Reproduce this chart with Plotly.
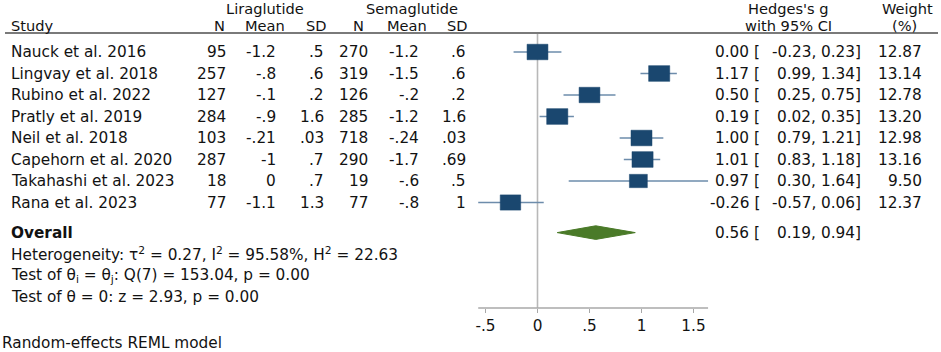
import plotly.graph_objects as go

# ---------------- data ----------------
studies = ["Nauck et al. 2016", "Lingvay et al. 2018", "Rubino et al. 2022", "Pratly et al. 2019",
           "Neil et al. 2018", "Capehorn et al. 2020", "Takahashi et al. 2023", "Rana et al. 2023"]
lira_n = [95, 257, 127, 284, 103, 287, 18, 77]
lira_mean = [-1.2, -0.8, -0.1, -0.9, -0.21, -1, 0, -1.1]
lira_sd = [0.5, 0.6, 0.2, 1.6, 0.03, 0.7, 0.7, 1.3]
sema_n = [270, 319, 126, 285, 718, 290, 19, 77]
sema_mean = [-1.2, -1.5, -0.2, -1.2, -0.24, -1.7, -0.6, -0.8]
sema_sd = [0.6, 0.6, 0.2, 1.6, 0.03, 0.69, 0.5, 1]
hedges_g = [0.00, 1.17, 0.50, 0.19, 1.00, 1.01, 0.97, -0.26]
ci_low = [-0.23, 0.99, 0.25, 0.02, 0.79, 0.83, 0.30, -0.57]
ci_high = [0.23, 1.34, 0.75, 0.35, 1.21, 1.18, 1.64, 0.06]
weights = [12.87, 13.14, 12.78, 13.20, 12.98, 13.16, 9.50, 12.37]
overall_g, overall_low, overall_high = 0.56, 0.19, 0.94
tick_vals = [-0.5, 0, 0.5, 1, 1.5]
tick_text = ["-.5", "0", ".5", "1", "1.5"]

# ---------------- layout helpers ----------------
W, H = 941, 352
AX_Y = 308            # pixel row of the x axis
ROW0, ROWH = 52, 21.5
ZERO_PX, PX_PER_UNIT = 537.5, 104.0
FONT = "DejaVu Sans"
FS = 15.3
HFS = 14.6
TXT = "#121212"
NAVY = "#1a476f"
CI_COL = "#6d8cab"
GREEN = "#4a7a28"


def px_x(p):
    return p / W


def px_y(p):
    return 1 - p / H


def stata(v):
    s = f"{v:g}"
    if s.startswith("0."):
        s = s[1:]
    elif s.startswith("-0."):
        s = "-" + s[2:]
    return s


rows = list(range(len(studies)))
overall_row = 8.4
y_top = -ROW0 / ROWH
y_bot = y_top + AX_Y / ROWH

fig = go.Figure()

# CI whiskers
fig.add_trace(go.Scatter(
    x=hedges_g, y=rows, mode="markers",
    marker=dict(size=1, color="rgba(0,0,0,0)"),
    error_x=dict(type="data", symmetric=False,
                 array=[h - gg for h, gg in zip(ci_high, hedges_g)],
                 arrayminus=[gg - l for gg, l in zip(hedges_g, ci_low)],
                 color=CI_COL, thickness=1.6, width=0),
    hoverinfo="skip", showlegend=False))

# overall diamond
dh = 6.8 / ROWH
fig.add_trace(go.Scatter(
    x=[overall_low, overall_g, overall_high, overall_g, overall_low],
    y=[overall_row, overall_row - dh, overall_row, overall_row + dh, overall_row],
    mode="lines", fill="toself", fillcolor=GREEN, line=dict(color=GREEN, width=1),
    hoverinfo="skip", showlegend=False))

shapes = []
# weight squares
for r, gg, wt in zip(rows, hedges_g, weights):
    s = (wt / 13.0) ** 0.5
    hw, hh = 10.5 * s, 7.8 * s
    shapes.append(dict(type="rect", xref="x", yref="y", xsizemode="pixel", ysizemode="pixel",
                       xanchor=gg, yanchor=r, x0=-hw, x1=hw, y0=-hh, y1=hh,
                       fillcolor=NAVY, line=dict(color=NAVY, width=0.5), layer="above"))

# zero line
shapes.append(dict(type="line", xref="x", yref="y domain", x0=0, x1=0, y0=0, y1=1 - 33 / AX_Y,
                   line=dict(color="#b8b8b8", width=1.6), layer="below"))
# axis line spanning the CI range
shapes.append(dict(type="line", xref="x", yref="y domain",
                   x0=min(ci_low + [overall_low]), x1=max(ci_high + [overall_high]), y0=0, y1=0,
                   line=dict(color="#a8a8a8", width=1.6)))
# header rule
shapes.append(dict(type="line", xref="paper", yref="paper", x0=px_x(5), x1=px_x(938),
                   y0=px_y(33), y1=px_y(33), line=dict(color="#7a7a7a", width=2)))

ann = []


def add_text(text, x, y, anchor="left", yref="paper", bold=False, size=FS):
    if bold:
        text = "<b>" + text + "</b>"
    ann.append(dict(text=text, x=x, y=y, xref="paper", yref=yref, xanchor=anchor,
                    yanchor="middle", showarrow=False, borderpad=0,
                    font=dict(family=FONT, size=size, color=TXT)))


# headers
HY1, HY2 = 8.8, 26
add_text("Liraglutide", px_x(265), px_y(HY1), "center", size=HFS)
add_text("Semaglutide", px_x(412), px_y(HY1), "center", size=HFS)
add_text("Hedges's g", px_x(788), px_y(HY1), "center", size=HFS)
add_text("Weight", px_x(907), px_y(HY1), "center", size=HFS)
add_text("Study", px_x(10), px_y(HY2), size=HFS)
for lab, cx in [("N", 219), ("Mean", 265), ("SD", 316), ("N", 358), ("Mean", 407), ("SD", 457)]:
    add_text(lab, px_x(cx), px_y(HY2), "center", size=HFS)
add_text("with 95% CI", px_x(788), px_y(HY2), "center", size=HFS)
add_text("(%)", px_x(904), px_y(HY2), "center", size=HFS)

# study rows
cols = [(lira_n, 227), (lira_mean, 277), (lira_sd, 325), (sema_n, 369), (sema_mean, 420), (sema_sd, 467)]
for i, r in enumerate(rows):
    add_text(studies[i], px_x(10), r, "left", "y")
    for arr, rx in cols:
        add_text(stata(arr[i]), px_x(rx), r, "right", "y")
    add_text(f"{hedges_g[i]:.2f} [", px_x(761), r, "right", "y")
    add_text(f"{ci_low[i]:.2f},", px_x(817), r, "right", "y")
    add_text(f"{ci_high[i]:.2f}]", px_x(862), r, "right", "y")
    add_text(f"{weights[i]:.2f}", px_x(923), r, "right", "y")

# overall row
add_text("Overall", px_x(10), overall_row, "left", "y", bold=True)
add_text(f"{overall_g:.2f} [", px_x(761), overall_row, "right", "y")
add_text(f"{overall_low:.2f},", px_x(817), overall_row, "right", "y")
add_text(f"{overall_high:.2f}]", px_x(862), overall_row, "right", "y")

add_text("Heterogeneity: \u03c4<sup>2</sup> = 0.27, I<sup>2</sup> = 95.58%, H<sup>2</sup> = 22.63",
         px_x(10), overall_row + 1.0, "left", "y")
add_text("Test of \u03b8<sub>i</sub> = \u03b8<sub>j</sub>: Q(7) = 153.04, p = 0.00",
         px_x(10), overall_row + 2.0, "left", "y")
add_text("Test of \u03b8 = 0: z = 2.93, p = 0.00", px_x(10), overall_row + 3.0, "left", "y")
add_text("Random-effects REML model", px_x(1), px_y(343), "left")

x_lo = -ZERO_PX / PX_PER_UNIT
x_hi = (W - ZERO_PX) / PX_PER_UNIT

fig.update_layout(
    width=W, height=H, autosize=False,
    margin=dict(l=0, r=0, t=0, b=0),
    paper_bgcolor="white", plot_bgcolor="white",
    shapes=shapes, annotations=ann,
    xaxis=dict(domain=[0, 1], range=[x_lo, x_hi], tickvals=tick_vals, ticktext=tick_text,
               ticks="outside", ticklen=4, tickwidth=1.2, tickcolor="#a8a8a8",
               showline=False, showgrid=False, zeroline=False, anchor="y",
               tickfont=dict(family=FONT, size=FS, color=TXT), fixedrange=True),
    yaxis=dict(domain=[1 - AX_Y / H, 1], range=[y_bot, y_top], visible=False,
               showgrid=False, zeroline=False, fixedrange=True),
    showlegend=False,
)

fig.write_html("out.html", config={"displayModeBar": False},
               post_script="document.body.style.margin='0';document.body.style.overflow='hidden';")
